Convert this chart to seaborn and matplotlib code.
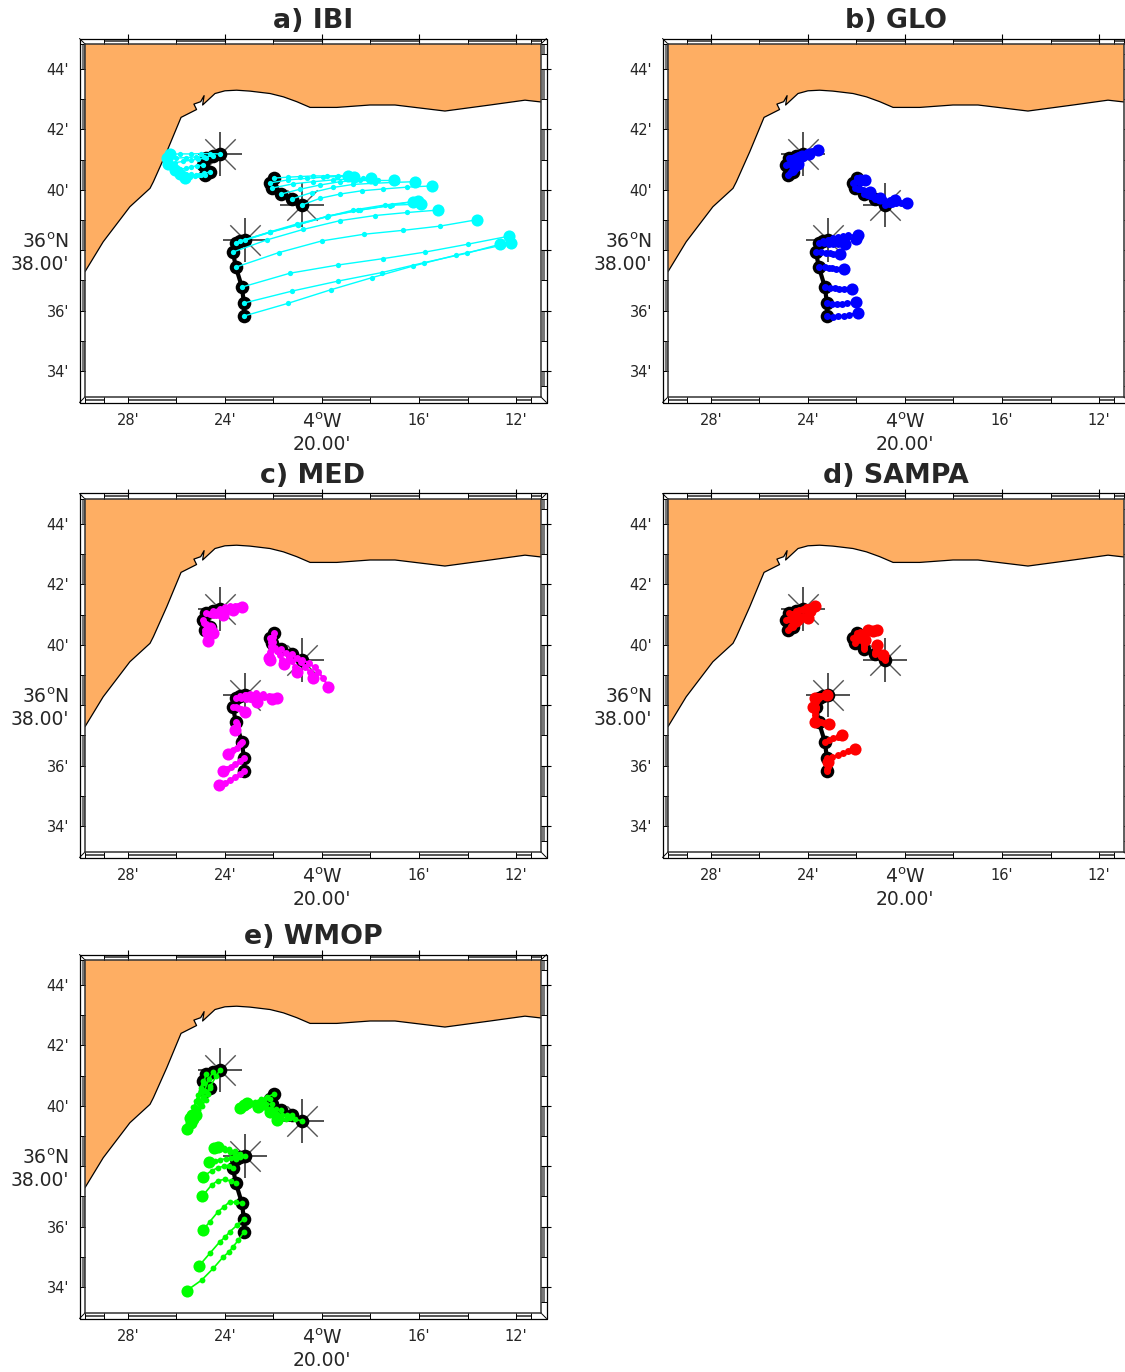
import pandas as pd
import matplotlib.pyplot as plt
import seaborn as sns

# all positions are minutes, west longitude 4deg xx' and north latitude 36deg xx'
coast_lon = [29.77, 29.02, 27.92, 27.09, 26.95, 26.40, 25.81, 25.17, 25.28, 25.00, 24.86, 24.92, 24.41,
             24.00, 23.52, 22.97, 22.14, 21.59, 21.04, 20.49, 19.39, 18.02, 16.99, 14.93, 13.07, 11.63, 10.97]
coast_lat = [37.29, 38.28, 39.44, 40.05, 40.27, 41.26, 42.40, 42.66, 42.84, 42.92, 43.12, 42.81, 43.19,
             43.28, 43.30, 43.27, 43.19, 43.08, 42.92, 42.73, 42.73, 42.81, 42.81, 42.61, 42.81, 42.97, 42.91]

# observed drifters, three groups, first point of each group has the star
obs_group = [0] * 6 + [1] * 6 + [2] * 8
obs_lon = [24.21, 24.49, 24.78, 24.91, 24.62, 24.82,
           20.82, 21.24, 21.69, 22.06, 22.14, 21.98,
           23.18, 23.38, 23.55, 23.67, 23.55, 23.30, 23.22, 23.22]
obs_lat = [41.19, 41.12, 41.05, 40.82, 40.59, 40.49,
           39.50, 39.70, 39.86, 40.06, 40.23, 40.39,
           38.34, 38.31, 38.24, 37.94, 37.44, 36.78, 36.25, 35.82]

ibi_lon = [[24.6, 25.0, 25.4, 25.85, 26.27], [24.85, 25.2, 25.6, 26.0, 26.40], [25.1, 25.4, 25.75, 26.05, 26.34],
           [25.15, 25.4, 25.6, 25.85, 26.06], [24.85, 25.05, 25.25, 25.45, 25.65], [25.0, 25.2, 25.4, 25.6, 25.85],
           [20.08, 19.26, 18.36, 17.47, 16.48, 15.48], [20.43, 19.53, 18.71, 17.81, 16.92, 16.15], [20.91, 20.08, 19.26, 18.43, 17.68, 17.01],
           [21.18, 20.36, 19.53, 18.84, 18.29, 17.96], [21.39, 20.63, 19.94, 19.39, 18.98, 18.68], [21.39, 20.91, 20.36, 19.81, 19.33, 18.94],
           [22.14, 21.04, 19.81, 18.71, 17.40, 16.23], [22.14, 20.98, 19.74, 18.5, 17.2, 16.03], [22.14, 20.98, 19.74, 18.43, 17.13, 15.92],
           [22.28, 20.77, 19.26, 17.81, 16.48, 15.22], [21.79, 20.00, 18.27, 16.65, 15.13, 13.62], [21.32, 19.35, 17.50, 15.74, 13.99, 12.27],
           [21.22, 19.33, 17.54, 15.79, 14.03, 12.66], [21.41, 19.64, 17.95, 16.23, 14.47, 12.22]]
ibi_lat = [[41.2, 41.2, 41.19, 41.19, 41.18], [41.1, 41.09, 41.07, 41.05, 41.04], [41.02, 40.98, 40.94, 40.9, 40.87],
           [40.8, 40.76, 40.72, 40.68, 40.65], [40.55, 40.5, 40.45, 40.42, 40.38], [40.5, 40.5, 40.51, 40.52, 40.52],
           [39.72, 39.86, 39.97, 40.03, 40.09, 40.13], [39.91, 40.08, 40.18, 40.22, 40.25, 40.27], [40.02, 40.16, 40.27, 40.31, 40.31, 40.31],
           [40.20, 40.27, 40.33, 40.36, 40.38, 40.38], [40.33, 40.38, 40.42, 40.44, 40.44, 40.44], [40.42, 40.44, 40.46, 40.46, 40.47, 40.47],
           [38.61, 38.87, 39.11, 39.33, 39.50, 39.61], [38.60, 38.85, 39.12, 39.32, 39.48, 39.64], [38.59, 38.84, 39.14, 39.33, 39.49, 39.53],
           [38.34, 38.69, 38.98, 39.15, 39.25, 39.33], [37.92, 38.31, 38.53, 38.66, 38.80, 39.01], [37.24, 37.51, 37.72, 37.94, 38.20, 38.47],
           [36.65, 36.98, 37.26, 37.59, 37.90, 38.20], [36.24, 36.69, 37.09, 37.48, 37.84, 38.23]]

glo_lon = [[24.1, 23.98, 23.85, 23.72, 23.58], [24.4, 24.3, 24.2, 24.08, 23.95], [24.68, 24.58, 24.48, 24.36, 24.25],
           [24.83, 24.75, 24.65, 24.55, 24.45], [24.58, 24.53, 24.48, 24.44, 24.4], [24.76, 24.7, 24.65, 24.6, 24.55],
           [20.66, 20.52, 20.38, 20.15, 19.91], [21.12, 21.0, 20.85, 20.62, 20.41], [21.58, 21.45, 21.32, 21.18, 21.03],
           [21.95, 21.85, 21.73, 21.6, 21.45], [22.05, 21.95, 21.85, 21.75, 21.65], [21.96, 21.94, 21.92, 21.89, 21.86],
           [22.95, 22.75, 22.55, 22.34, 21.93], [23.15, 22.95, 22.75, 22.5, 22.02], [23.35, 23.15, 22.95, 22.75, 22.48],
           [23.45, 23.25, 23.1, 22.95, 22.66], [23.3, 23.15, 23.0, 22.85, 22.52], [23.1, 22.9, 22.7, 22.5, 22.20],
           [23.0, 22.8, 22.6, 22.4, 22.02], [22.95, 22.75, 22.5, 22.3, 21.93]]
glo_lat = [[41.22, 41.25, 41.28, 41.30, 41.32], [41.14, 41.15, 41.16, 41.18, 41.2], [41.07, 41.08, 41.09, 41.1, 41.12],
           [40.86, 40.9, 40.93, 40.97, 41.0], [40.64, 40.69, 40.75, 40.8, 40.85], [40.55, 40.6, 40.66, 40.72, 40.78],
           [39.52, 39.54, 39.55, 39.55, 39.55], [39.69, 39.68, 39.67, 39.67, 39.66], [39.83, 39.8, 39.77, 39.74, 39.72],
           [40.04, 40.02, 40.0, 39.97, 39.94], [40.26, 40.28, 40.3, 40.31, 40.32], [40.38, 40.37, 40.36, 40.34, 40.33],
           [38.4, 38.45, 38.47, 38.49, 38.50], [38.33, 38.36, 38.37, 38.38, 38.37], [38.23, 38.22, 38.22, 38.21, 38.21],
           [37.93, 37.92, 37.9, 37.89, 37.87], [37.43, 37.42, 37.4, 37.38, 37.37], [36.75, 36.74, 36.72, 36.71, 36.72],
           [36.22, 36.22, 36.23, 36.24, 36.28], [35.8, 35.81, 35.83, 35.86, 35.93]]

med_lon = [[24.0, 23.8, 23.6, 23.45, 23.31], [24.3, 24.15, 24.0, 23.85, 23.65], [24.62, 24.5, 24.35, 24.2, 24.07],
           [24.88, 24.8, 24.75, 24.68, 24.62], [24.58, 24.55, 24.53, 24.5, 24.48], [24.82, 24.8, 24.76, 24.72, 24.68],
           [20.55, 20.3, 20.15, 19.95, 19.74], [21.05, 20.85, 20.7, 20.5, 20.35], [21.5, 21.35, 21.25, 21.12, 21.01],
           [21.95, 21.85, 21.75, 21.65, 21.55], [22.1, 22.1, 22.12, 22.13, 22.14], [22.0, 22.03, 22.08, 22.13, 22.2],
           [22.95, 22.7, 22.45, 22.2, 21.87], [23.15, 22.9, 22.65, 22.4, 22.07], [23.35, 23.15, 22.95, 22.8, 22.66],
           [23.55, 23.45, 23.35, 23.25, 23.17], [23.52, 23.5, 23.52, 23.55, 23.58], [23.4, 23.52, 23.65, 23.77, 23.89],
           [23.4, 23.58, 23.75, 23.9, 24.07], [23.4, 23.6, 23.8, 24.0, 24.23]]
med_lat = [[41.26, 41.28, 41.29, 41.28, 41.26], [41.12, 41.13, 41.14, 41.15, 41.15], [41.03, 41.0, 41.0, 41.0, 40.99],
           [40.74, 40.68, 40.63, 40.58, 40.55], [40.53, 40.48, 40.44, 40.41, 40.38], [40.4, 40.33, 40.26, 40.2, 40.13],
           [39.4, 39.25, 39.1, 38.9, 38.61], [39.55, 39.42, 39.28, 39.1, 38.89], [39.72, 39.58, 39.45, 39.28, 39.11],
           [39.9, 39.78, 39.65, 39.5, 39.36], [40.08, 39.95, 39.82, 39.65, 39.50], [40.25, 40.1, 39.95, 39.75, 39.55],
           [38.38, 38.4, 38.37, 38.32, 38.23], [38.33, 38.33, 38.32, 38.28, 38.21], [38.23, 38.22, 38.2, 38.17, 38.12],
           [37.95, 37.92, 37.88, 37.83, 37.76], [37.38, 37.33, 37.28, 37.23, 37.18], [36.7, 36.6, 36.52, 36.44, 36.38],
           [36.15, 36.05, 35.97, 35.9, 35.83], [35.72, 35.62, 35.52, 35.44, 35.36]]

sampa_lon = [[24.08, 23.98, 23.88, 23.8, 23.71], [24.35, 24.22, 24.1, 24.0, 23.9], [24.65, 24.5, 24.35, 24.2, 24.0],
             [24.8, 24.7, 24.6, 24.5, 24.4], [24.58, 24.52, 24.47, 24.43, 24.4], [24.75, 24.68, 24.62, 24.56, 24.5],
             [20.82, 20.83, 20.85, 20.87, 20.9], [21.22, 21.2, 21.18, 21.17, 21.17], [21.7, 21.68, 21.67, 21.65, 21.65],
             [21.95, 21.85, 21.75, 21.62, 21.52], [22.0, 21.85, 21.7, 21.5, 21.3], [21.85, 21.7, 21.55, 21.35, 21.17],
             [23.2, 23.22, 23.23], [23.45, 23.55, 23.62, 23.68, 23.71], [23.62, 23.68, 23.72, 23.76, 23.78],
             [23.68, 23.7, 23.7, 23.71, 23.71], [23.45, 23.35, 23.25, 23.2, 23.14], [23.15, 22.95, 22.78, 22.61],
             [23.0, 22.75, 22.55, 22.35, 22.06], [23.2, 23.18, 23.17, 23.16]]
sampa_lat = [[41.24, 41.27, 41.29, 41.3, 41.30], [41.14, 41.15, 41.15, 41.14, 41.12], [41.03, 41.0, 40.97, 40.94, 40.9],
             [40.85, 40.83, 40.83, 40.84, 40.85], [40.66, 40.72, 40.78, 40.84, 40.9], [40.56, 40.62, 40.68, 40.74, 40.8],
             [39.53, 39.56, 39.6, 39.63, 39.66], [39.76, 39.82, 39.88, 39.94, 39.99], [39.92, 39.98, 40.04, 40.1, 40.16],
             [40.15, 40.24, 40.33, 40.42, 40.49], [40.28, 40.33, 40.38, 40.43, 40.47], [40.41, 40.44, 40.46, 40.48, 40.49],
             [38.34, 38.35, 38.34], [38.32, 38.31, 38.3, 38.27, 38.23], [38.18, 38.12, 38.05, 38.0, 37.95],
             [37.86, 37.78, 37.68, 37.56, 37.45], [37.43, 37.42, 37.4, 37.39, 37.37], [36.85, 36.9, 36.96, 37.01],
             [36.28, 36.35, 36.42, 36.48, 36.54], [35.9, 35.97, 36.05, 36.13]]

wmop_lon = [[24.35, 24.6, 24.85, 25.15, 25.38], [24.65, 24.85, 25.05, 25.3, 25.58], [24.88, 25.0, 25.12, 25.25, 25.35],
            [25.0, 25.1, 25.2, 25.3, 25.45], [24.7, 24.8, 24.95, 25.1, 25.2], [24.9, 25.0, 25.1, 25.2, 25.3],
            [21.1, 21.32, 21.5, 21.7, 21.87], [21.45, 21.65, 21.85, 22.0, 22.15], [21.9, 22.1, 22.3, 22.45, 22.63],
            [22.3, 22.5, 22.7, 22.9, 23.11], [22.4, 22.65, 22.9, 23.15, 23.38], [22.25, 22.5, 22.75, 23.0, 23.2],
            [23.4, 23.6, 23.85, 24.05, 24.3], [23.6, 23.8, 24.0, 24.2, 24.45], [23.75, 23.95, 24.2, 24.4, 24.66],
            [23.85, 24.05, 24.3, 24.55, 24.90], [23.75, 24.0, 24.3, 24.55, 24.94], [23.55, 23.8, 24.05, 24.28, 24.62, 24.90],
            [23.5, 23.8, 24.0, 24.21, 24.62, 25.06], [23.45, 23.66, 23.85, 24.07, 24.48, 24.96, 25.58]]
wmop_lat = [[41.0, 40.65, 40.25, 39.8, 39.42], [40.9, 40.5, 40.1, 39.65, 39.23], [40.75, 40.45, 40.2, 39.95, 39.7],
            [40.6, 40.35, 40.15, 39.95, 39.6], [40.4, 40.2, 40.0, 39.85, 39.7], [40.3, 40.1, 39.9, 39.75, 39.55],
            [39.55, 39.59, 39.57, 39.55, 39.53], [39.7, 39.71, 39.74, 39.78, 39.81], [39.88, 39.91, 39.94, 39.96, 39.97],
            [40.05, 40.06, 40.07, 40.08, 40.08], [40.18, 40.13, 40.07, 40.0, 39.92], [40.3, 40.22, 40.14, 40.07, 40.02],
            [38.42, 38.5, 38.57, 38.62, 38.65], [38.38, 38.46, 38.53, 38.59, 38.62], [38.26, 38.25, 38.22, 38.18, 38.15],
            [38.0, 38.0, 37.95, 37.85, 37.66], [37.5, 37.57, 37.52, 37.38, 37.0], [36.8, 36.83, 36.65, 36.5, 36.17, 35.89],
            [36.05, 35.83, 35.65, 35.5, 35.12, 34.71], [35.55, 35.34, 35.15, 35.0, 34.62, 34.23, 33.88]]

titles = ['a) IBI', 'b) GLO', 'c) MED', 'd) SAMPA', 'e) WMOP']
colors = ['#00ffff', '#0000ff', '#ff00ff', '#ff0000', '#00ff00']
all_lon = [ibi_lon, glo_lon, med_lon, sampa_lon, wmop_lon]
all_lat = [ibi_lat, glo_lat, med_lat, sampa_lat, wmop_lat]
dot_sizes = [3.8, 5.0, 5.0, 5.0, 4.2]
line_widths = [1.0, 1.6, 1.6, 1.6, 1.2]

lon_ticks = [28, 24, 20, 16, 12]
lon_labels = ["28'", "24'", "4$^{\\mathrm{o}}$W\n20.00'", "16'", "12'"]
lat_ticks = [34, 36, 38, 40, 42, 44]
lat_labels = ["34'", "36'", "36$^{\\mathrm{o}}$N\n38.00'", "40'", "42'", "44'"]

LON_LIM = (29.77, 10.97)
LAT_LIM = (33.14, 44.83)
W, H = 1125, 1372
# left, top of the inner map box in pixels
boxes = [(85, 44), (668, 44), (85, 499), (668, 499), (85, 960)]

sns.set_theme(style='white')
fig = plt.figure(figsize=(W / 100, H / 100), dpi=100)


def fancy_frame(ax):
    dx, dy = 5.5 / 456, 5.5 / 353
    xt, yt = ax.get_xaxis_transform(), ax.get_yaxis_transform()
    ax.plot([-dx, 1 + dx, 1 + dx, -dx, -dx], [-dy, -dy, 1 + dy, 1 + dy, -dy], transform=ax.transAxes,
            color='black', lw=0.9, clip_on=False)
    for cx, cy in [(0, 0), (0, 1), (1, 0), (1, 1)]:
        ax.plot([cx, cx + (2 * cx - 1) * dx], [cy, cy + (2 * cy - 1) * dy], transform=ax.transAxes,
                color='black', lw=0.7, clip_on=False)
    top = [(29, 28), (26, 24), (22, 20), (18, 16), (14, 12), (11.4, 10.97)]
    bottom = [(29.77, 29), (28, 26), (24, 22), (20, 18), (16, 14), (12, 11.4)]
    left = [(44.83, 44), (43, 42), (41, 40), (39, 38), (37, 36), (35, 34)]
    right = [(44.83, 44.5), (44, 43), (42, 41), (40, 39), (38, 37), (36, 35), (34, 33.5)]
    for a, b in top:
        ax.plot([a, b], [1 + dy / 2, 1 + dy / 2], transform=xt, color='#555555', lw=1.4, clip_on=False, solid_capstyle='butt')
        ax.plot([a, a], [1, 1 + dy], transform=xt, color='black', lw=0.7, clip_on=False)
        ax.plot([b, b], [1, 1 + dy], transform=xt, color='black', lw=0.7, clip_on=False)
    for a, b in bottom:
        ax.plot([a, b], [-dy / 2, -dy / 2], transform=xt, color='#555555', lw=1.4, clip_on=False, solid_capstyle='butt')
        ax.plot([a, a], [0, -dy], transform=xt, color='black', lw=0.7, clip_on=False)
        ax.plot([b, b], [0, -dy], transform=xt, color='black', lw=0.7, clip_on=False)
    for a, b in left:
        ax.plot([-dx * 0.3, -dx * 0.3], [a, b], transform=yt, color='#777777', lw=2.2, clip_on=False, solid_capstyle='butt')
        ax.plot([0, -dx], [a, a], transform=yt, color='black', lw=0.7, clip_on=False)
        ax.plot([0, -dx], [b, b], transform=yt, color='black', lw=0.7, clip_on=False)
    for a, b in right:
        ax.plot([1 + dx * 0.3, 1 + dx * 0.3], [a, b], transform=yt, color='#777777', lw=2.2, clip_on=False, solid_capstyle='butt')
        ax.plot([1, 1 + dx], [a, a], transform=yt, color='black', lw=0.7, clip_on=False)
        ax.plot([1, 1 + dx], [b, b], transform=yt, color='black', lw=0.7, clip_on=False)


def draw_panel(ax, title, color, fc_lon, fc_lat, dot, lw):
    land_lon = coast_lon + [LON_LIM[1], LON_LIM[0]]
    land_lat = coast_lat + [LAT_LIM[1], LAT_LIM[1]]
    ax.fill(land_lon, land_lat, facecolor='#feae63', edgecolor='none', zorder=1)
    ax.plot(coast_lon, coast_lat, color='black', lw=0.9, zorder=1.5)

    obs = pd.DataFrame({'lon': obs_lon, 'lat': obs_lat, 'group': obs_group})
    first = obs.groupby('group').head(1)
    sns.scatterplot(data=first, x='lon', y='lat', marker='x', s=480, color='#555555', linewidth=1.0, ax=ax, zorder=2)
    sns.scatterplot(data=first, x='lon', y='lat', marker='+', s=960, color='#222222', linewidth=1.1, ax=ax, zorder=2)
    sns.lineplot(data=obs, x='lon', y='lat', units='group', estimator=None, sort=False, color='black', lw=3.0,
                 marker='o', markersize=9.8, markeredgewidth=0, ax=ax, zorder=3)

    rows = []
    for i in range(len(obs_lon)):
        track_lon = [obs_lon[i]] + fc_lon[i]
        track_lat = [obs_lat[i]] + fc_lat[i]
        for lo, la in zip(track_lon, track_lat):
            rows.append({'lon': lo, 'lat': la, 'track': i})
    df = pd.DataFrame(rows)
    sns.lineplot(data=df, x='lon', y='lat', units='track', estimator=None, sort=False, color=color, lw=lw,
                 marker='o', markersize=dot, markeredgewidth=0, ax=ax, zorder=4)
    ends = df.groupby('track').tail(1)
    sns.scatterplot(data=ends, x='lon', y='lat', color=color, s=76, linewidth=0, ax=ax, zorder=5)

    ax.set_xlim(LON_LIM)
    ax.set_ylim(LAT_LIM)
    ax.set_xticks(lon_ticks, labels=lon_labels)
    ax.set_yticks(lat_ticks, labels=lat_labels)
    ax.set_xlabel('')
    ax.set_ylabel('')
    ax.tick_params(axis='both', which='major', direction='out', top=True, right=True, length=7,
                   width=0.8, color='black', labelsize=10.5, pad=4.5)
    ax.tick_params(axis='y', pad=4.5)
    for lab in ax.get_xticklabels():
        if '\n' in lab.get_text():
            lab.set_fontsize(13.5)
    for lab in ax.get_yticklabels():
        if '\n' in lab.get_text():
            lab.set_fontsize(13.5)
            lab.set_multialignment('right')
    for side in ax.spines.values():
        side.set_color('#333333')
        side.set_linewidth(1.1)
    ax.set_title(title, fontsize=19.4, fontweight='bold', pad=11.5)
    fancy_frame(ax)


for k in range(5):
    left, top = boxes[k]
    ax = fig.add_axes([left / W, 1 - (top + 353) / H, 456 / W, 353 / H])
    draw_panel(ax, titles[k], colors[k], all_lon[k], all_lat[k], dot_sizes[k], line_widths[k])

plt.savefig('out.png', dpi=100)
plt.close()
